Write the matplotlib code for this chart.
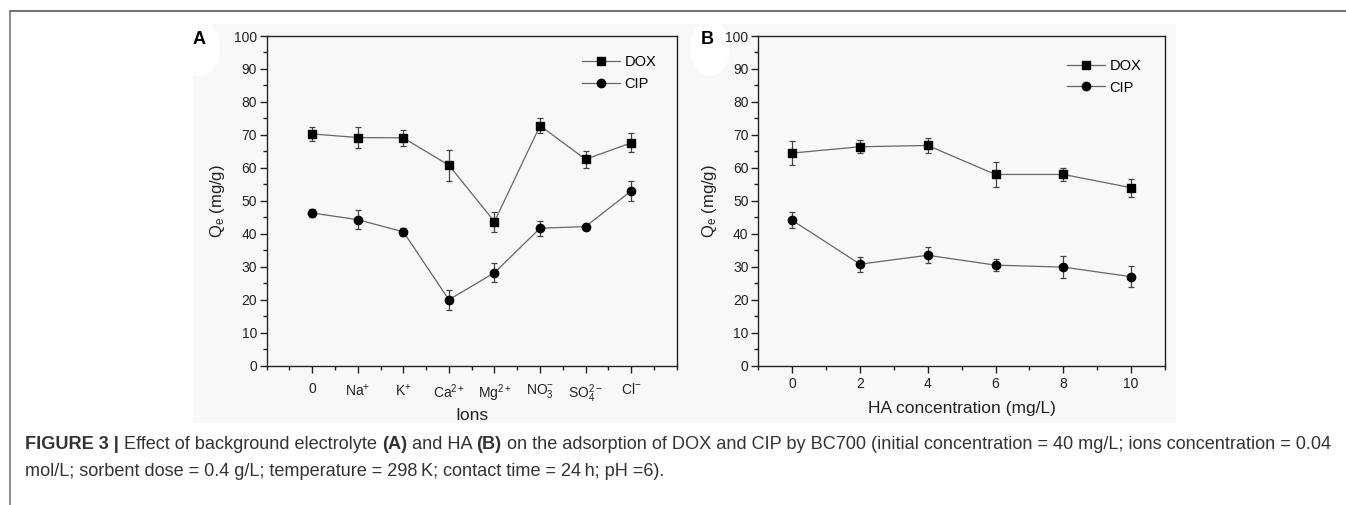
import matplotlib
matplotlib.use("Agg")
import matplotlib.pyplot as plt
from matplotlib.patches import Rectangle, Ellipse
from matplotlib.lines import Line2D
from matplotlib.ticker import MultipleLocator
import numpy as np

plt.rcParams['font.family'] = ['Liberation Sans', 'DejaVu Sans']
plt.rcParams['mathtext.fontset'] = 'custom'
plt.rcParams['mathtext.rm'] = 'Liberation Sans'
plt.rcParams['mathtext.it'] = 'Liberation Sans:italic'
plt.rcParams['mathtext.bf'] = 'Liberation Sans:bold'

# ---- data ----
ion_labels = ['0', 'Na$^{+}$', 'K$^{+}$', 'Ca$^{2+}$', 'Mg$^{2+}$', 'NO$_3^{-}$', 'SO$_4^{2-}$', 'Cl$^{-}$']
dox_ions = [70.3, 69.2, 69.1, 60.8, 43.7, 72.8, 62.6, 67.6]
dox_ions_err = [2.0, 3.2, 2.5, 4.7, 3.0, 2.3, 2.6, 2.9]
cip_ions = [46.3, 44.3, 40.6, 20.0, 28.2, 41.7, 42.2, 53.0]
cip_ions_err = [1.2, 2.9, 1.3, 3.0, 2.8, 2.3, 0.5, 2.9]

ha_conc = [0, 2, 4, 6, 8, 10]
dox_ha = [64.5, 66.4, 66.8, 58.0, 58.0, 54.0]
dox_ha_err = [3.7, 2.0, 2.3, 3.7, 2.0, 2.7]
cip_ha = [44.1, 30.8, 33.5, 30.5, 29.9, 27.0]
cip_ha_err = [2.4, 2.3, 2.4, 1.8, 3.3, 3.1]

W, H = 1346, 505
fig = plt.figure(figsize=(W / 100, H / 100), dpi=100)
fig.patch.set_facecolor('white')

def fx(px):
    return px / W

def fy(py):
    return 1 - py / H

bg = '#f8f8f8'
# grey image background
fig.patches.append(Rectangle((fx(193), fy(423)), fx(1176) - fx(193), fy(24) - fy(423),
                             transform=fig.transFigure, facecolor=bg, edgecolor='none', zorder=-5))
# white blobs behind panel letters
for cx in (200, 710):
    fig.patches.append(Ellipse((fx(cx), fy(48)), 40 / W, 56 / H, transform=fig.transFigure,
                               facecolor='white', edgecolor='none', zorder=-4))
# frame lines
fig.add_artist(Line2D([fx(9.5), 1.0], [fy(10.5), fy(10.5)], transform=fig.transFigure,
                      color='#555555', lw=1.2))
fig.add_artist(Line2D([fx(10), fx(10)], [fy(10.5), 0.0], transform=fig.transFigure,
                      color='#777777', lw=1.2))

line_c = '#666666'
err_c = '#444444'


def style_axes(ax, xpad):
    ax.set_facecolor(bg)
    for s in ax.spines.values():
        s.set_linewidth(1.0)
        s.set_color('#222222')
    ax.set_ylim(0, 100)
    ax.yaxis.set_major_locator(MultipleLocator(10))
    ax.yaxis.set_minor_locator(MultipleLocator(5))
    ax.tick_params(axis='both', which='major', direction='out', length=5, width=1.0,
                   labelsize=10, colors='#222222', labelcolor='#222222')
    ax.tick_params(axis='both', which='minor', direction='out', length=3, width=1.0,
                   colors='#222222')
    ax.tick_params(axis='y', which='both', pad=2)
    ax.tick_params(axis='x', which='major', pad=xpad)
    ax.set_ylabel('Q$_{\\mathrm{e}}$ (mg/g)', fontsize=12, labelpad=5, color='#222222')


def plot_series(ax, x, y, e, marker, ms, label):
    ax.errorbar(x, y, yerr=e, fmt='none', ecolor=err_c, elinewidth=0.9, capsize=2.3,
                capthick=0.9, zorder=2)
    ax.plot(x, y, '-', color=line_c, lw=0.9, zorder=3)
    ax.plot(x, y, linestyle='none', marker=marker, ms=ms, color='black', zorder=4)
    return Line2D([], [], color=line_c, lw=0.9, marker=marker, ms=ms,
                  markerfacecolor='black', markeredgecolor='black', label=label)


# ---- Panel A ----
axA = fig.add_axes([fx(266.7), fy(365.7), fx(676.7) - fx(266.7), fy(36) - fy(365.7)])
style_axes(axA, 7)
xA = np.arange(len(ion_labels))
hA1 = plot_series(axA, xA, dox_ions, dox_ions_err, 's', 5.5, 'DOX')
hA2 = plot_series(axA, xA, cip_ions, cip_ions_err, 'o', 6, 'CIP')
axA.set_xlim(-1, 8)
axA.set_xticks(xA)
axA.set_xticklabels(ion_labels)
axA.xaxis.set_minor_locator(MultipleLocator(0.5))
axA.set_xlabel('Ions', fontsize=12.5, labelpad=2, color='#222222')
axA.legend(handles=[hA1, hA2], loc='upper left', frameon=False, fontsize=10.5,
           handlelength=2.6, handletextpad=0.3, labelspacing=0.5,
           bbox_to_anchor=(0.755, 0.959), borderaxespad=0.0)

# ---- Panel B ----
axB = fig.add_axes([fx(758.3), fy(365.7), fx(1165) - fx(758.3), fy(36) - fy(365.7)])
style_axes(axB, 3)
hB1 = plot_series(axB, ha_conc, dox_ha, dox_ha_err, 's', 5.5, 'DOX')
hB2 = plot_series(axB, ha_conc, cip_ha, cip_ha_err, 'o', 6, 'CIP')
axB.set_xlim(-1, 11)
axB.set_xticks(ha_conc)
axB.xaxis.set_minor_locator(MultipleLocator(1))
axB.set_xlabel('HA concentration (mg/L)', fontsize=12.5, labelpad=7, color='#222222')
axB.legend(handles=[hB1, hB2], loc='upper left', frameon=False, fontsize=10.5,
           handlelength=2.6, handletextpad=0.3, labelspacing=0.5,
           bbox_to_anchor=(0.745, 0.947), borderaxespad=0.0)

# panel letters
fig.text(fx(199), fy(39), 'A', fontsize=13, fontweight='bold', ha='center', va='center')
fig.text(fx(707), fy(39), 'B', fontsize=13, fontweight='bold', ha='center', va='center')

# ---- caption ----
cap_c = '#333333'
line1 = [('FIGURE 3 |', True), (' Effect of background electrolyte ', False), ('(A)', True),
         (' and HA ', False), ('(B)', True),
         (' on the adsorption of DOX and CIP by BC700 (initial concentration = 40 mg/L; ions concentration = 0.04', False)]
line2 = [('mol/L; sorbent dose = 0.4 g/L; temperature = 298\u2009K; contact time = 24\u2009h; pH =6).', False)]

fig.canvas.draw()
renderer = fig.canvas.get_renderer()


def draw_runs(runs, x0, y0, size):
    x = x0
    for txt, bold in runs:
        t = fig.text(fx(x), fy(y0), txt, fontsize=size, fontweight='bold' if bold else 'normal',
                     color=cap_c, ha='left', va='baseline', family=['Liberation Sans', 'DejaVu Sans'])
        bb = t.get_window_extent(renderer=renderer)
        x += bb.width


draw_runs(line1, 25, 449, 13.1)
draw_runs(line2, 25, 476, 13.1)

fig.savefig('out.png', dpi=100, facecolor='white')
